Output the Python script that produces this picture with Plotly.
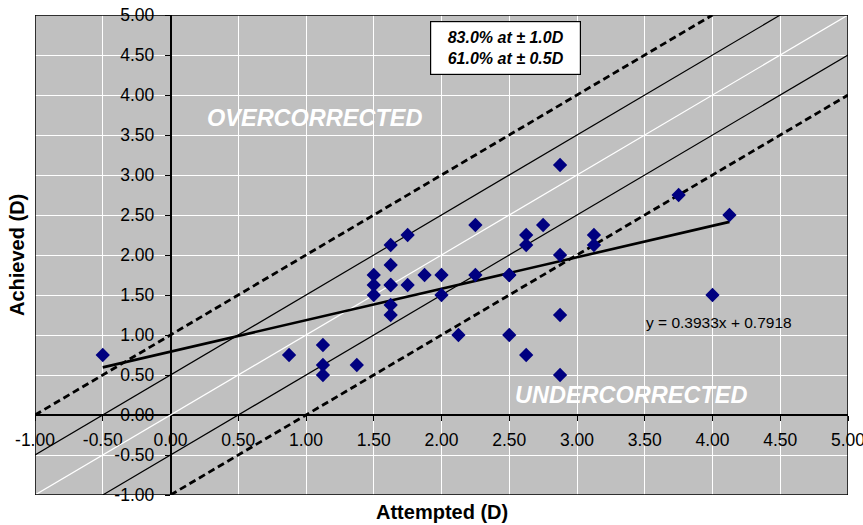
import plotly.graph_objects as go

# ---- data ----
attempted = [-0.5, 0.875, 1.125, 1.125, 1.125, 1.375, 1.5, 1.5, 1.5,
             1.625, 1.625, 1.625, 1.625, 1.625, 1.625, 1.75, 1.75, 1.875,
             2.0, 2.0, 2.125, 2.25, 2.25, 2.5, 2.5, 2.5, 2.625, 2.625, 2.625,
             2.75, 2.875, 2.875, 2.875, 2.875, 3.125, 3.125, 3.75, 4.0, 4.125]
achieved = [0.75, 0.75, 0.875, 0.625, 0.5, 0.625, 1.75, 1.625, 1.5,
            2.125, 1.875, 1.625, 1.375, 1.25, 1.625, 2.25, 1.625, 1.75,
            1.75, 1.5, 1.0, 2.375, 1.75, 1.75, 1.75, 1.0, 2.25, 2.125, 0.75,
            2.375, 3.125, 2.0, 1.25, 0.5, 2.25, 2.125, 2.75, 1.5, 2.5]

trend_slope = 0.3933
trend_intercept = 0.7918

ref_offsets = [0.0, 0.5, -0.5, 1.0, -1.0]   # lines y = x + offset

tick_vals = [-1.0, -0.5, 0.0, 0.5, 1.0, 1.5, 2.0, 2.5, 3.0, 3.5, 4.0, 4.5, 5.0]
tick_text = ["-1.00", "-0.50", "0.00", "0.50", "1.00", "1.50", "2.00",
             "2.50", "3.00", "3.50", "4.00", "4.50", "5.00"]

axis_min, axis_max = -1.0, 5.0
FONT = "Liberation Sans, Arial, sans-serif"

fig = go.Figure()

# reference lines
for c in ref_offsets:
    x0 = max(axis_min, axis_min - c)
    x1 = min(axis_max, axis_max - c)
    if c == 0:
        line = dict(color="white", width=1.2)
    elif abs(c) == 0.5:
        line = dict(color="black", width=1.2)
    else:
        line = dict(color="black", width=2.8, dash="7px,4px")
    fig.add_trace(go.Scatter(x=[x0, x1], y=[x0 + c, x1 + c], mode="lines",
                             line=line, hoverinfo="skip", showlegend=False))

# trend line
tx = [min(attempted), max(attempted)]
fig.add_trace(go.Scatter(x=tx, y=[trend_slope * v + trend_intercept for v in tx],
                         mode="lines", line=dict(color="black", width=2.6),
                         showlegend=False))

# data points
fig.add_trace(go.Scatter(x=attempted, y=achieved, mode="markers",
                         marker=dict(symbol="diamond", size=11, color="#000080"),
                         showlegend=False))

axis_common = dict(
    range=[axis_min, axis_max], tickvals=tick_vals, ticktext=tick_text,
    showgrid=True, gridcolor="white", gridwidth=1,
    zeroline=False, showline=True, linecolor="black", linewidth=1.5,
    ticks="outside", ticklen=5, tickcolor="black", tickwidth=1,
    tickfont=dict(family=FONT, size=17.5, color="black"),
    anchor="free", position=(0 - axis_min) / (axis_max - axis_min),
    layer="below traces", ticklabeloverflow="allow", automargin=False,
)

fig.update_layout(
    width=863, height=525,
    margin=dict(l=35, r=15, t=15, b=30, autoexpand=False),
    paper_bgcolor="white", plot_bgcolor="#c0c0c0",
    xaxis=dict(**axis_common, ticklabelstandoff=4),
    yaxis=dict(**axis_common, ticklabelstandoff=7),
    showlegend=False,
)

# border
fig.add_shape(type="rect", xref="x", yref="y", x0=axis_min, x1=axis_max,
              y0=axis_min, y1=axis_max, line=dict(color="black", width=1.5),
              layer="above")

annots = [
    dict(x=1.06, y=3.71, text="<b><i>OVERCORRECTED</i></b>",
         font=dict(family=FONT, size=23.5, color="white"), showarrow=False),
    dict(x=3.40, y=0.25, text="<b><i>UNDERCORRECTED</i></b>",
         font=dict(family=FONT, size=23.5, color="white"), showarrow=False),
    dict(x=4.05, y=1.16, text="y = 0.3933x + 0.7918",
         font=dict(family=FONT, size=15.5, color="black"), showarrow=False),
    dict(x=2.474, y=4.585,
         text="<b><i>83.0% at ± 1.0D</i></b><br><b><i>61.0% at ± 0.5D</i></b>",
         font=dict(family=FONT, size=16, color="black"), showarrow=False,
         bgcolor="white", bordercolor="black", borderwidth=1.2, borderpad=4,
         width=141, height=44),
]
for a in annots:
    fig.add_annotation(xref="x", yref="y", **a)

fig.add_annotation(xref="paper", yref="paper", x=0.5, y=0, yshift=-17,
                   xanchor="center", yanchor="middle",
                   text="<b>Attempted (D)</b>", showarrow=False,
                   font=dict(family=FONT, size=20, color="black"))
fig.add_annotation(xref="paper", yref="paper", x=0, y=0.5, xshift=-18,
                   xanchor="center", yanchor="middle",
                   text="<b>Achieved (D)</b>", showarrow=False, textangle=-90,
                   font=dict(family=FONT, size=20, color="black"))

fig.write_html("out.html")
